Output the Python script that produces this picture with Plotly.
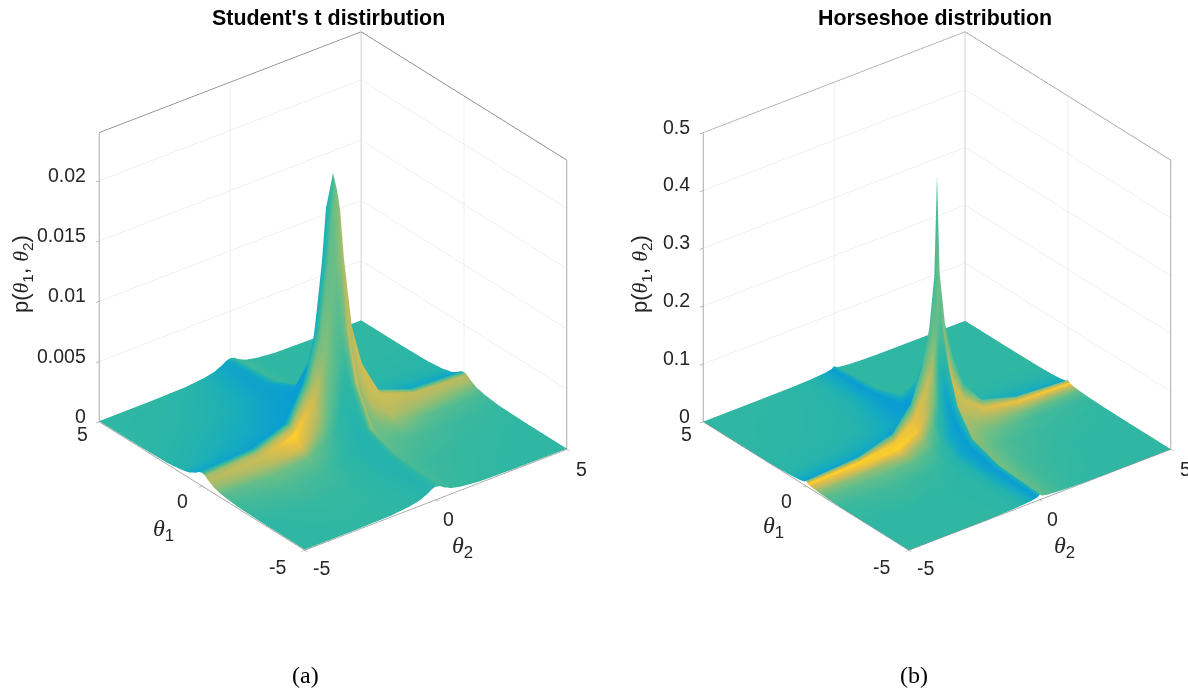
import numpy as np
import plotly.graph_objects as go

student_theta = [-5, -3, -1.7, -1, -.6, -.3, -.15, 0, .15, .3, .6, 1, 1.7, 3, 5]
horseshoe_theta = [-5, -3, -1.7, -1, -.6, -.3, -.1, 0, .1, .3, .6, 1, 1.7, 3, 5]
# quadrant tables, rows and columns from |theta| = 5 down to 0
student_z_e4 = [
    [.55, .65, 1.2, 2.8, 4.7, 7.8, 10.1, 10.9],
    [.65, .79, 1.4, 3.3, 5.6, 9.4, 12.2, 13.1],
    [1.2, 1.4, 2.6, 6.1, 10.3, 17.3, 22.3, 24],
    [2.8, 3.3, 6.1, 14.2, 23.9, 40, 51.7, 55.6],
    [4.7, 5.6, 10.3, 23.9, 40.3, 67.5, 87.2, 93.7],
    [7.8, 9.4, 17.3, 40, 67.5, 113, 146, 157],
    [10.1, 12.2, 22.3, 51.7, 87.2, 146, 188.5, 202.7],
    [10.9, 13.1, 24, 55.6, 93.7, 157, 202.7, 218],
]
horseshoe_z_e3 = [
    [.18, .3, .65, 1.44, 2.5, 3.8, 5.6, 9],
    [.3, .49, 1.07, 2.4, 4.2, 6.2, 9.2, 14.9],
    [.65, 1.07, 2.3, 5.2, 9.1, 13.6, 20, 32.4],
    [1.44, 2.4, 5.2, 11.5, 20.2, 30.2, 44.6, 72],
    [2.5, 4.2, 9.1, 20.2, 35.3, 52.9, 78, 126],
    [3.8, 6.2, 13.6, 30.2, 52.9, 79.4, 117, 189],
    [5.6, 9.2, 20, 44.6, 78, 117, 173, 279],
    [9, 14.9, 32.4, 72, 126, 189, 279, 450],
]
# colour value read at each grid vertex, rows theta1 -5..5, columns theta2 -5..5
student_c = [
    [0, 0, 0, -.03, -.08, -.15, -.15, -.05, .05, .08, .06, .03, .02, 0, 0],
    [0, .03, .02, -.03, -.12, -.2, -.2, -.05, .1, .15, .12, .08, .05, .02, 0],
    [.08, .15, .1, 0, -.1, -.2, -.15, .1, .45, .3, .25, .2, .15, .08, .03],
    [.2, .3, .3, .15, 0, -.1, -.05, .2, .8, .4, .4, .4, .4, .2, .1],
    [.45, .55, .8, .5, .25, .15, .15, .3, .7, .55, .55, .6, .6, .45, .3],
    [.6, .7, 1, .75, .45, .3, .3, .4, .55, .6, .65, .7, .68, .6, .55],
    [.5, .55, .6, .45, .3, .25, .25, .35, .5, .6, .65, .7, .7, .65, .6],
    [0, .1, .1, .05, -.05, -.1, -.1, .1, .3, .4, .4, .4, .3, .1, .1],
    [-.5, -.5, -.6, -.6, -.6, -.6, -.6, -.5, -.3, -.2, -.2, -.3, -.5, -.6, -.6],
    [-.8, -.9, -1, -1, -1, -.9, -.9, -.8, -.5, -.4, -.5, -.6, -.7, -.8, -.9],
    [-.6, -.75, -1, -1, -1, -1, -1, -.7, -.3, -.2, -.3, -.4, -.5, -.6, -.5],
    [-.2, -.55, -.85, -.95, -1, -1, -1, -.6, -.2, 0, 0, -.2, -.2, -.3, -.2],
    [-.1, -.35, -.6, -.85, -.95, -1, -.9, -.4, 0, .1, .05, 0, -.1, -.1, -.1],
    [0, -.15, -.3, -.5, -.7, -.85, -.8, -.3, 0, .05, .05, 0, 0, 0, 0],
    [0, 0, -.1, -.25, -.45, -.7, -.7, -.2, .1, .1, .05, 0, 0, 0, 0],
]
horseshoe_c = [
    [0, 0, 0, -.05, -.15, -.5, -1, -.3, .2, .2, .1, .05, 0, 0, 0],
    [0, 0, -.02, -.05, -.2, -.7, -1, -.2, .3, .3, .2, .1, .05, 0, 0],
    [.05, .1, .05, 0, -.2, -.8, -1, -.1, .35, .4, .3, .2, .1, .05, 0],
    [.2, .25, .25, .15, 0, -.6, -1, 0, .4, .5, .45, .35, .25, .1, .05],
    [.4, .45, .6, .45, .2, -.2, -.8, .1, .5, .6, .55, .5, .45, .3, .2],
    [.7, .85, 1, .9, .6, .3, -.2, .2, .55, .65, .65, .65, .6, .6, .55],
    [1, 1, .9, .85, .75, .6, .3, .3, .6, .7, .7, .7, .8, .9, 1],
    [.2, .2, .1, .05, .1, .1, .1, .1, .2, .2, .1, .1, .2, .3, .3],
    [-1, -1, -1, -1, -.9, -.8, -.6, -.4, -.3, -.3, -.4, -.6, -.8, -.9, -1],
    [-.6, -.7, -.9, -1, -1, -1, -.9, -.5, -.2, -.1, -.3, -.5, -.5, -.5, -.4],
    [-.3, -.4, -.6, -.9, -1, -1, -1, -.4, -.1, 0, -.1, -.2, -.3, -.3, -.2],
    [-.1, -.2, -.35, -.6, -.9, -1, -1, -.3, 0, 0, 0, -.1, -.1, -.1, -.1],
    [-.05, -.1, -.15, -.4, -.7, -1, -1, -.2, 0, 0, 0, 0, 0, 0, 0],
    [0, -.05, -.1, -.2, -.4, -.8, -1, -.2, 0, 0, 0, 0, 0, 0, 0],
    [0, 0, -.05, -.1, -.3, -.6, -1, -.3, 0, 0, 0, 0, 0, 0, 0],
]
titles = ["Student's t distirbution", "Horseshoe distribution"]
captions = ["(a)", "(b)"]
xy_ticks = [-5, 0, 5]
student_zticks = [0, .005, .01, .015, .02]
student_zlabels = ["0", "0.005", "0.01", "0.015", "0.02"]
horseshoe_zticks = [0, .1, .2, .3, .4, .5]
horseshoe_zlabels = ["0", "0.1", "0.2", "0.3", "0.4", "0.5"]
student_zmax = 0.024
horseshoe_zmax = 0.5

W, H = 1188, 688
FRAME = "#7f7f7f"
GRID = "#e2e2e2"
INK = "#262626"
colorscale = [
    [0.0, "#0a9dd2"], [0.25, "#16acc0"], [0.5, "#2fb7a3"], [0.65, "#6cbe86"],
    [0.8, "#b7bc62"], [0.92, "#e6bf45"], [1.0, "#ffd324"],
]
mirror = list(range(8)) + list(range(6, -1, -1))


def full(quad, unit):
    return (np.array(quad)[np.ix_(mirror, mirror)] * unit).tolist()


def frame_trace(scene, zmax):
    lo, hi = xy_ticks[0], xy_ticks[-1]
    xs = [lo, hi, hi, None, lo, lo, None, hi, hi, None, hi, hi, None, lo, lo, hi]
    ys = [hi, hi, lo, None, hi, hi, None, hi, hi, None, lo, lo, None, hi, lo, lo]
    zs = [zmax, zmax, zmax, None, 0, zmax, None, 0, zmax, None, 0, zmax, None, 0, 0, 0]
    return go.Scatter3d(x=xs, y=ys, z=zs, mode="lines", line=dict(color=FRAME, width=1.5),
                        hoverinfo="skip", showlegend=False, scene=scene)


def surface(theta, zt, ct, scene):
    return go.Surface(x=theta, y=theta, z=zt, surfacecolor=ct, cmin=-1, cmax=1, colorscale=colorscale,
                      showscale=False, scene=scene, hoverinfo="skip",
                      lighting=dict(ambient=1, diffuse=0, specular=0, roughness=1, fresnel=0))


fig = go.Figure()
fig.add_trace(surface(student_theta, full(student_z_e4, 1e-4), student_c, "scene"))
fig.add_trace(frame_trace("scene", student_zmax))
fig.add_trace(surface(horseshoe_theta, full(horseshoe_z_e3, 1e-3), horseshoe_c, "scene2"))
fig.add_trace(frame_trace("scene2", horseshoe_zmax))


def axis(ticks, rng):
    return dict(range=rng, tickvals=ticks, title=dict(text=""), showticklabels=False,
                showbackground=False, gridcolor=GRID, gridwidth=1, zeroline=False, showline=False,
                ticks="outside", ticklen=4, tickcolor=FRAME, showspikes=False)


def label(x, y, z, text, xs, ys, anchor="center"):
    return dict(x=x, y=y, z=z, text=text, showarrow=False, xanchor=anchor, yanchor="middle", xshift=xs, yshift=ys,
                font=dict(family="Liberation Sans", size=19.5, color=INK))


def scene_notes(zticks, zlabels):
    lo, hi = xy_ticks[0], xy_ticks[-1]
    notes = [label(lo, hi, 0, "5", -17, -12), label(lo, 0, 0, "0", -19, -15), label(lo, lo, 0, "-5", -27, -17),
             label(lo, lo, 0, "-5", 17, -18), label(0, lo, 0, "0", 13, -19), label(hi, lo, 0, "5", 15, -20)]
    notes += [label(lo, hi, z, t, -11, 6, "right") for z, t in zip(zticks, zlabels)]
    return notes


def scene(px_x, px_y, zticks, zlabels, zmax):
    return dict(
        domain=dict(x=[px_x[0] / W, px_x[1] / W], y=[1 - px_y[1] / H, 1 - px_y[0] / H]),
        xaxis=axis(xy_ticks, [-5, 5]), yaxis=axis(xy_ticks, [-5, 5]),
        zaxis=axis(zticks, [0, zmax]),
        aspectmode="manual", aspectratio=dict(x=1.145, y=1.145, z=1.14),
        annotations=scene_notes(zticks, zlabels),
        camera=dict(eye=dict(x=-.538 * 1.9, y=-.685 * 1.9, z=.49 * 1.9), up=dict(x=0, y=0, z=1),
                    center=dict(x=0, y=0, z=0), projection=dict(type="orthographic")),
    )


def txt(px, py, text, size=18, family="Liberation Sans", angle=0, color=INK):
    return dict(x=px / W, y=1 - py / H, xref="paper", yref="paper", text=text, showarrow=False,
                xanchor="center", yanchor="middle", textangle=angle,
                font=dict(family=family, size=size, color=color))


SANS = "<span style=\"font-family:'Liberation Sans'\">%s</span>"
TH = "<i>θ</i><sub>" + SANS + "</sub>"
PLABEL = SANS % "p(" + TH % "1" + SANS % ", " + TH % "2" + SANS % ")"
annotations = [
    txt(328, 18, "<b>%s</b>" % titles[0], 21.4, color="#000000"),
    txt(935, 18, "<b>%s</b>" % titles[1], 21.4, color="#000000"),
    txt(305, 675, captions[0], 24, "Liberation Serif", color="#000000"),
    txt(914, 675, captions[1], 24, "Liberation Serif", color="#000000"),
    txt(163, 530, TH % "1", 24, "Liberation Serif"), txt(462, 547, TH % "2", 24, "Liberation Serif"),
    txt(773, 527, TH % "1", 24, "Liberation Serif"), txt(1064, 547, TH % "2", 24, "Liberation Serif"),
    txt(22, 274, PLABEL, 22, "Liberation Serif", angle=-90),
    txt(641, 274, PLABEL, 22, "Liberation Serif", angle=-90),
]

fig.update_layout(
    width=W, height=H, margin=dict(l=0, r=0, t=0, b=0), paper_bgcolor="white", showlegend=False,
    scene=scene((80, 586), (0, 582), student_zticks, student_zlabels, student_zmax),
    scene2=scene((686, 1188), (0, 582), horseshoe_zticks, horseshoe_zlabels, horseshoe_zmax),
    annotations=annotations,
)
fig.write_html("out.html", config=dict(displayModeBar=False),
               post_script="document.body.style.margin='0';document.body.style.overflow='hidden';")
